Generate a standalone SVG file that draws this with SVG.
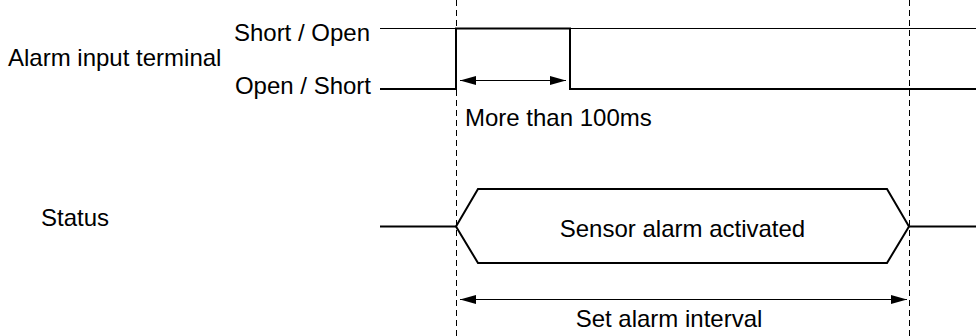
<svg xmlns="http://www.w3.org/2000/svg" width="976" height="336" viewBox="0 0 976 336">
<style>
text{font-family:"Liberation Sans",Arial,sans-serif;font-size:24px;fill:#000}
.thick{fill:none;stroke:#000;stroke-width:2}
.thin{fill:none;stroke:#000;stroke-width:1}
.dash{fill:none;stroke:#000;stroke-width:1;stroke-dasharray:6,4}
.arr{fill:none;stroke:#000;stroke-width:1;marker-start:url(#ah);marker-end:url(#ah)}
</style>
<defs>
<marker id="ah" viewBox="0 0 16 9" refX="16" refY="4.5" markerWidth="16" markerHeight="9" markerUnits="userSpaceOnUse" orient="auto-start-reverse">
<path d="M0,0 L16,4.5 L0,9 z" fill="#000"/>
</marker>
</defs>
<g id="labels">
<text x="8" y="66">Alarm input terminal</text>
<text x="370" y="41" text-anchor="end">Short / Open</text>
<text x="371" y="94" text-anchor="end">Open / Short</text>
<text x="41" y="226">Status</text>
</g>
<g id="guides">
<line class="dash" x1="456.5" y1="0" x2="456.5" y2="336"/>
<line class="dash" x1="909.5" y1="0" x2="909.5" y2="336"/>
</g>
<g id="alarm-input">
<line class="thin" x1="380" y1="28.5" x2="976" y2="28.5"/>
<polyline class="thick" points="380,89 456,89 456,28.5 570,28.5 570,89 976,89"/>
</g>
<g id="status">
<line class="thick" x1="380" y1="226.5" x2="456" y2="226.5"/>
<polygon class="thick" points="456,226.5 478,189 887,189 909,226.5 887,263 478,263"/>
<line class="thick" x1="909" y1="226.5" x2="976" y2="226.5"/>
<text x="682.5" y="237" text-anchor="middle">Sensor alarm activated</text>
</g>
<g id="connectors">
<line class="arr" x1="460" y1="80.5" x2="566" y2="80.5"/>
<line class="arr" x1="460" y1="299.5" x2="907" y2="299.5"/>
</g>
<g id="dimension-labels">
<text x="465" y="126">More than 100ms</text>
<text x="669" y="327" text-anchor="middle">Set alarm interval</text>
</g>
</svg>
